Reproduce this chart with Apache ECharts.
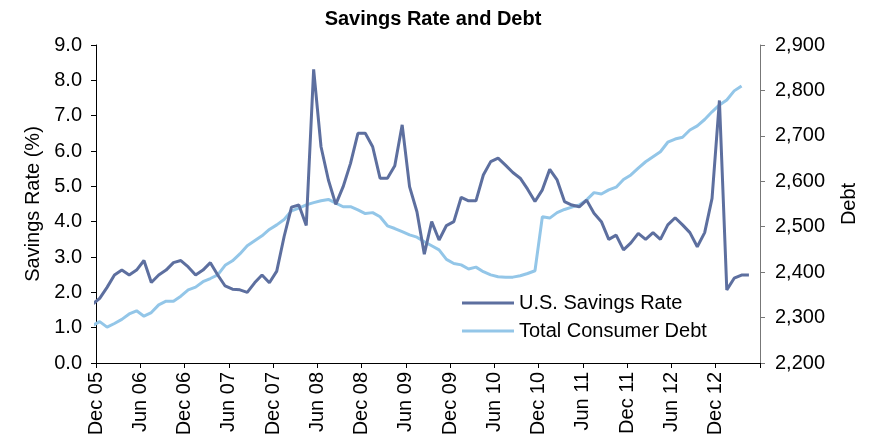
<!DOCTYPE html>
<html>
<head>
<meta charset="utf-8">
<script src="https://cdn.jsdelivr.net/npm/echarts@6/dist/echarts.min.js"></script>
<style>
  html, body { margin: 0; padding: 0; background: #fff; }
  #main { width: 869px; height: 444px; }
</style>
</head>
<body>
<div id="main"></div>
<script>
// monthly values, first entry is Nov 05 (only its tail shows at the left edge)
var savingsRate = [1.66,
  1.83, 2.14, 2.49, 2.63, 2.49, 2.63, 2.90, 2.28, 2.49, 2.63, 2.84, 2.90,
  2.72, 2.49, 2.63, 2.84, 2.49, 2.18, 2.09, 2.07, 2.00, 2.27, 2.49, 2.27,
  2.60, 3.58, 4.41, 4.47, 3.89, 8.31, 6.12, 5.18, 4.49, 4.99, 5.65, 6.50,
  6.50, 6.12, 5.23, 5.23, 5.58, 6.74, 4.99, 4.28, 3.08, 4.00, 3.48, 3.89,
  4.00, 4.69, 4.59, 4.59, 5.32, 5.70, 5.80, 5.60, 5.39, 5.23, 4.92, 4.57,
  4.90, 5.48, 5.18, 4.57, 4.47, 4.42, 4.61, 4.24, 4.00, 3.50, 3.62, 3.20,
  3.40, 3.67, 3.50, 3.69, 3.50, 3.91, 4.11, 3.91, 3.69, 3.29, 3.69, 4.66,
  7.43, 2.07, 2.40, 2.49, 2.49];

var consumerDebt = [2282,
  2291, 2279, 2287, 2296, 2308, 2315, 2303, 2311, 2328, 2336, 2336, 2347,
  2361, 2367, 2379, 2386, 2394, 2415, 2425, 2440, 2458, 2469, 2480, 2494,
  2504, 2516, 2535, 2541, 2548, 2553, 2557, 2560, 2552, 2544, 2544, 2537,
  2529, 2531, 2522, 2502, 2496, 2489, 2482, 2477, 2467, 2458, 2449, 2428,
  2419, 2416, 2407, 2411, 2401, 2394, 2390, 2389, 2389, 2392, 2397, 2403,
  2522, 2519, 2531, 2538, 2543, 2548, 2559, 2575, 2572, 2581, 2587, 2604,
  2614, 2629, 2643, 2654, 2665, 2686, 2693, 2697, 2713, 2722, 2736, 2753,
  2768, 2779, 2799, 2810];

var tickLabels = ['Dec 05','Jun 06','Dec 06','Jun 07','Dec 07','Jun 08','Dec 08','Jun 09',
  'Dec 09','Jun 10','Dec 10','Jun 11','Dec 11','Jun 12','Dec 12'];

var font = 'Liberation Sans, Arial, sans-serif';

function toPoints(arr) {
  // month k sits mid-month: Nov 05 -> -0.5, Dec 05 -> 0.5 ...
  return arr.map(function (v, k) { return [k - 0.5, v]; });
}

var myChart = echarts.init(document.getElementById('main'));
myChart.setOption({
  animation: false,
  textStyle: { fontFamily: font, color: '#000' },
  title: {
    text: 'Savings Rate and Debt',
    left: 428, top: 4, textAlign: 'center',
    textStyle: { fontFamily: font, fontSize: 20, fontWeight: 'bold', color: '#000' }
  },
  grid: { left: 96, right: 109, top: 45, bottom: 81 },
  legend: {
    orient: 'vertical',
    left: 462, top: 293, padding: 0,
    icon: 'rect',
    itemWidth: 52, itemHeight: 3, itemGap: 8,
    textStyle: { fontFamily: font, fontSize: 20, color: '#000' },
    data: ['U.S. Savings Rate', 'Total Consumer Debt']
  },
  xAxis: {
    type: 'value',
    min: 0, max: 90, interval: 6,
    axisLine: { lineStyle: { color: '#000', width: 1 } },
    axisTick: { length: 5, lineStyle: { color: '#000' } },
    splitLine: { show: false },
    axisLabel: {
      rotate: 90, margin: 9, fontSize: 20, color: '#000', fontFamily: font,
      formatter: function (v) { return tickLabels[v / 6] || ''; }
    }
  },
  yAxis: [{
    type: 'value',
    min: 0, max: 9, interval: 1,
    name: 'Savings Rate (%)', nameLocation: 'middle', nameRotate: 90, nameGap: 53,
    nameTextStyle: { fontSize: 20, color: '#000', fontFamily: font },
    axisLine: { show: true, lineStyle: { color: '#000' } },
    axisTick: { show: true, length: 5, lineStyle: { color: '#000' } },
    splitLine: { show: false },
    axisLabel: {
      margin: 14, fontSize: 20, color: '#000', fontFamily: font,
      formatter: function (v) { return v.toFixed(1); }
    }
  }, {
    type: 'value',
    min: 2200, max: 2900, interval: 100,
    name: 'Debt', nameLocation: 'middle', nameRotate: 90, nameGap: 79,
    nameTextStyle: { fontSize: 20, color: '#000', fontFamily: font },
    axisLine: { show: true, lineStyle: { color: '#777' } },
    axisTick: { show: true, length: 5, lineStyle: { color: '#777' } },
    splitLine: { show: false },
    axisLabel: {
      margin: 15, fontSize: 20, color: '#000', fontFamily: font,
      formatter: function (v) { return v.toLocaleString('en-US'); }
    }
  }],
  series: [{
    name: 'U.S. Savings Rate',
    type: 'line',
    yAxisIndex: 0,
    symbol: 'none',
    clip: true,
    z: 3,
    lineStyle: { color: '#5d6f9f', width: 3 },
    itemStyle: { color: '#5d6f9f' },
    data: toPoints(savingsRate)
  }, {
    name: 'Total Consumer Debt',
    type: 'line',
    yAxisIndex: 1,
    symbol: 'none',
    clip: true,
    z: 2,
    lineStyle: { color: '#93c6e8', width: 3 },
    itemStyle: { color: '#93c6e8' },
    data: toPoints(consumerDebt)
  }]
});
</script>
</body>
</html>
